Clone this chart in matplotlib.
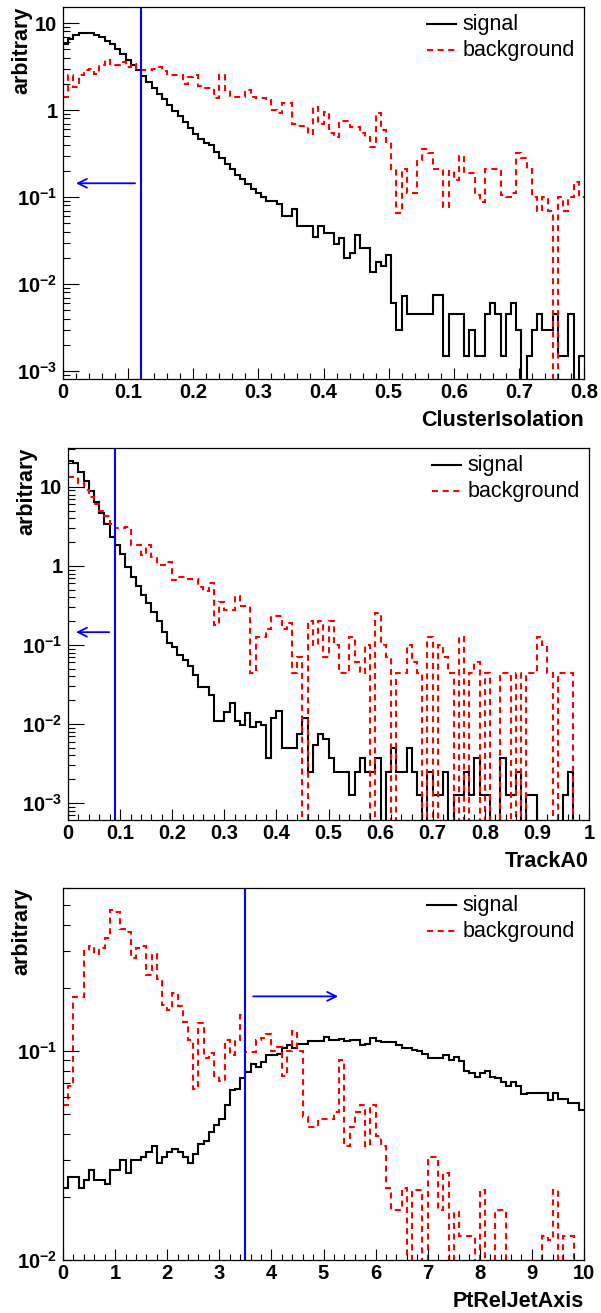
import numpy as np
import matplotlib
matplotlib.use("Agg")
import matplotlib.pyplot as plt
from matplotlib.ticker import LogLocator, MultipleLocator, FuncFormatter, NullFormatter

plt.rcParams["font.family"] = ["Liberation Sans", "DejaVu Sans"]
plt.rcParams["mathtext.fontset"] = "custom"
for key in ("mathtext.rm", "mathtext.it", "mathtext.bf", "mathtext.sf"):
    plt.rcParams[key] = "Liberation Sans:bold"

# --- ClusterIsolation (100 bins, 0..0.8) ---
iso_signal = [
    5.8, 6.5, 7.2, 7.6, 7.7, 7.6, 7.3, 6.9, 6.3, 5.7,
    5.0, 4.4, 3.8, 3.3, 2.9, 2.45, 2.1, 1.8, 1.55, 1.33,
    1.15, 0.98, 0.85, 0.72, 0.62, 0.53, 0.46, 0.42, 0.40, 0.33,
    0.28, 0.24, 0.21, 0.18, 0.16, 0.14, 0.125, 0.11, 0.10, 0.091,
    0.091, 0.084, 0.06, 0.06, 0.073, 0.047, 0.046, 0.046, 0.035, 0.047,
    0.039, 0.039, 0.029, 0.034, 0.02, 0.0226, 0.037, 0.026, 0.026, 0.0139,
    0.018, 0.0163, 0.0216, 0.0061, 0.003, 0.0073, 0.0045, 0.0045, 0.0045, 0.0045,
    0.0045, 0.0075, 0.0075, 0.0015, 0.0045, 0.0045, 0.0045, 0.0015, 0.003, 0.0015,
    0.0015, 0.0045, 0.006, 0.0045, 0.0015, 0.0045, 0.006, 0.003, 0.0, 0.0015,
    0.003, 0.0045, 0.003, 0.003, 0.0045, 0.0015, 0.0015, 0.0045, 0.0, 0.0015,
]
iso_background = [
    1.42, 2.5, 1.82, 2.5, 2.9, 3.0, 2.6, 3.3, 3.75, 3.4,
    3.3, 3.6, 3.15, 3.4, 3.0, 2.9, 2.9, 3.0, 3.15, 2.8,
    2.5, 2.5, 2.5, 2.0, 2.4, 2.5, 1.9, 1.8, 1.8, 1.36,
    2.5, 1.7, 1.4, 1.4, 1.4, 1.7, 1.4, 1.36, 1.36, 1.3,
    1.0, 0.92, 1.19, 1.19, 0.7, 0.66, 0.66, 0.53, 1.09, 0.70,
    0.96, 0.54, 0.49, 0.75, 0.74, 0.64, 0.64, 0.54, 0.49, 0.38,
    0.92, 0.59, 0.43, 0.21, 0.065, 0.21, 0.11, 0.11, 0.27, 0.36,
    0.32, 0.21, 0.21, 0.077, 0.2, 0.157, 0.30, 0.187, 0.187, 0.105,
    0.088, 0.21, 0.21, 0.21, 0.105, 0.1, 0.11, 0.32, 0.28, 0.21,
    0.1, 0.07, 0.1, 0.07, 0.0, 0.1, 0.07, 0.1, 0.15, 0.1,
]

# --- TrackA0 (100 bins, 0..1) ---
a0_signal = [
    21.5, 19.9, 15.6, 11.7, 8.9, 6.5, 4.65, 3.37, 2.31, 1.84,
    1.41, 0.98, 0.73, 0.55, 0.43, 0.34, 0.26, 0.2, 0.147, 0.105,
    0.095, 0.075, 0.065, 0.054, 0.042, 0.029, 0.029, 0.023, 0.011, 0.011,
    0.0142, 0.0185, 0.011, 0.0097, 0.0137, 0.0092, 0.0107, 0.0097, 0.0037, 0.012,
    0.0145, 0.005, 0.005, 0.005, 0.0075, 0.012, 0.0025, 0.0055, 0.0074, 0.0064,
    0.0037, 0.0025, 0.0025, 0.0025, 0.00125, 0.0025, 0.0037, 0.0025, 0.0025, 0.0037,
    0.0, 0.0025, 0.005, 0.0025, 0.0025, 0.005, 0.0025, 0.00125, 0.0, 0.0025,
    0.00125, 0.00125, 0.0025, 0.0, 0.00125, 0.00125, 0.0025, 0.00125, 0.0037, 0.00125,
    0.00125, 0.0, 0.0, 0.0037, 0.00125, 0.00125, 0.0025, 0.0, 0.00125, 0.00125,
    0.0, 0.0, 0.0, 0.0, 0.0, 0.00125, 0.0025, 0.0, 0.0, 0.0,
]
a0_background = [
    13.3, 13.3, 11.1, 9.0, 7.5, 6.1, 5.0, 4.3, 3.4, 3.0,
    3.0, 3.1, 1.84, 1.84, 1.38, 1.84, 1.3, 1.03, 1.03, 1.13,
    0.66, 0.72, 0.72, 0.69, 0.69, 0.54, 0.48, 0.6, 0.18, 0.35,
    0.28, 0.28, 0.41, 0.31, 0.31, 0.044, 0.126, 0.126, 0.16, 0.23,
    0.23, 0.16, 0.19, 0.044, 0.07, 0.0, 0.2, 0.1, 0.2, 0.07,
    0.2, 0.1, 0.044, 0.044, 0.127, 0.06, 0.044, 0.1, 0.0, 0.256,
    0.1, 0.07, 0.0, 0.044, 0.044, 0.1, 0.06, 0.044, 0.0, 0.127,
    0.0, 0.1, 0.07, 0.044, 0.0, 0.127, 0.0, 0.044, 0.06, 0.0,
    0.044, 0.0, 0.0, 0.044, 0.044, 0.0, 0.044, 0.0, 0.044, 0.044,
    0.127, 0.1, 0.044, 0.0, 0.044, 0.044, 0.044, 0.0, 0.0, 0.0,
]

# --- PtRelJetAxis (100 bins, 0..10) ---
ptrel_signal = [
    0.022, 0.025, 0.025, 0.022, 0.024, 0.027, 0.024, 0.024, 0.023, 0.027,
    0.027, 0.030, 0.026, 0.030, 0.030, 0.031, 0.033, 0.035, 0.029, 0.031,
    0.033, 0.034, 0.033, 0.031, 0.029, 0.032, 0.036, 0.037, 0.041, 0.044,
    0.047, 0.055, 0.065, 0.066, 0.074, 0.079, 0.086, 0.084, 0.088, 0.095,
    0.095, 0.097, 0.103, 0.107, 0.103, 0.108, 0.108, 0.111, 0.111, 0.111,
    0.116, 0.112, 0.112, 0.114, 0.111, 0.112, 0.112, 0.106, 0.108, 0.115,
    0.111, 0.110, 0.110, 0.110, 0.106, 0.103, 0.103, 0.101, 0.100, 0.097,
    0.092, 0.092, 0.092, 0.095, 0.090, 0.093, 0.089, 0.080, 0.078, 0.075,
    0.078, 0.080, 0.075, 0.074, 0.071, 0.068, 0.071, 0.068, 0.062, 0.063,
    0.063, 0.063, 0.063, 0.058, 0.063, 0.059, 0.059, 0.056, 0.056, 0.052,
]
ptrel_background = [
    0.055, 0.068, 0.18, 0.18, 0.30, 0.316, 0.29, 0.31, 0.345, 0.47,
    0.46, 0.383, 0.37, 0.277, 0.31, 0.316, 0.23, 0.29, 0.22, 0.165,
    0.157, 0.188, 0.163, 0.138, 0.112, 0.066, 0.136, 0.092, 0.098, 0.076,
    0.072, 0.113, 0.095, 0.113, 0.148, 0.099, 0.099, 0.112, 0.115, 0.12,
    0.10, 0.104, 0.076, 0.1, 0.125, 0.1, 0.048, 0.043, 0.043, 0.047,
    0.047, 0.047, 0.051, 0.09, 0.035, 0.043, 0.051, 0.055, 0.035, 0.055,
    0.039, 0.035, 0.022, 0.0173, 0.0173, 0.022, 0.0, 0.0215, 0.0215, 0.0,
    0.031, 0.031, 0.0173, 0.026, 0.0, 0.017, 0.013, 0.013, 0.013, 0.0,
    0.0215, 0.0, 0.0, 0.0173, 0.0173, 0.0, 0.0, 0.0, 0.0, 0.0,
    0.0, 0.0, 0.013, 0.0125, 0.0215, 0.0, 0.013, 0.013, 0.0, 0.0,
]

FIG_W, FIG_H = 601, 1313
DASHED = (0, (2.9, 2.2))


def log_label(v, pos):
    e = int(round(np.log10(v)))
    if e == 0:
        return "1"
    if e == 1:
        return "10"
    return r"$10^{%d}$" % e


def draw_panel(fig, box, xrange, sig, bkg, ylim, cut, arrow, xlabel,
               major, minor):
    left, top, w, h = box
    ax = fig.add_axes([left / FIG_W, 1 - (top + h) / FIG_H, w / FIG_W, h / FIG_H])
    edges = np.linspace(xrange[0], xrange[1], len(sig) + 1)
    floor = ylim[0] * 1e-3
    sig = np.asarray(sig)
    bkg = np.asarray(bkg)
    # empty bins drop below the axis, as ROOT draws them on a log scale
    ax.stairs(np.where(sig > 0, sig, floor), edges, baseline=None,
              color="black", lw=1.5)
    ax.stairs(np.where(bkg > 0, bkg, floor), edges, baseline=None,
              color="red", lw=1.5, linestyle=DASHED)

    ax.axvline(cut, color="blue", lw=1.5)
    tail, tip, ya = arrow
    ax.annotate("", xy=(tip, ya), xytext=(tail, ya),
                arrowprops=dict(arrowstyle="->", color="blue", lw=1.3,
                                mutation_scale=16, shrinkA=0, shrinkB=0))

    ax.set_yscale("log")
    ax.set_xlim(*xrange)
    ax.set_ylim(*ylim)
    ax.xaxis.set_major_locator(MultipleLocator(major))
    ax.xaxis.set_minor_locator(MultipleLocator(minor))
    ax.xaxis.set_major_formatter(FuncFormatter(lambda v, p: "%g" % round(v, 6)))
    ax.yaxis.set_major_locator(LogLocator(base=10, numticks=20))
    ax.yaxis.set_minor_locator(LogLocator(base=10, subs=np.arange(2, 10), numticks=50))
    ax.yaxis.set_major_formatter(FuncFormatter(log_label))
    ax.yaxis.set_minor_formatter(NullFormatter())

    ax.tick_params(which="both", direction="in", top=False, right=False,
                   width=0.8, labelsize=14.5)
    ax.tick_params(axis="x", which="major", length=7.7, pad=3)
    ax.tick_params(axis="x", which="minor", length=4)
    ax.tick_params(axis="y", which="major", length=11.3, pad=4)
    ax.tick_params(axis="y", which="minor", length=5.3)
    for lab in ax.get_xticklabels() + ax.get_yticklabels():
        lab.set_fontweight("bold")
    for sp in ax.spines.values():
        sp.set_linewidth(0.9)

    ax.set_xlabel(xlabel, fontsize=15.5, fontweight="bold", loc="right")
    ax.xaxis.set_label_coords(1.0, -0.083)
    ax.set_ylabel("arbitrary", fontsize=15.5, fontweight="bold", loc="top")
    ax.yaxis.label.set_va("center")
    ax.yaxis.set_label_coords(-41 / w, 1.0)

    # key in the upper right, as in the ROOT legend
    for yk, name, style, col in ((0.954, "signal", "-", "black"),
                                 (0.884, "background", DASHED, "red")):
        ax.plot([0.698, 0.755], [yk, yk], transform=ax.transAxes,
                color=col, lw=1.5, linestyle=style, clip_on=False)
        ax.text(0.766, yk, name, transform=ax.transAxes, fontsize=15.5,
                ha="left", va="center")
    return ax


fig = plt.figure(figsize=(FIG_W / 100, FIG_H / 100), dpi=100)

draw_panel(fig, (63, 7, 521, 372), (0.0, 0.8), iso_signal, iso_background,
           (8.1e-4, 15.3), 0.12, (0.1106, 0.02, 0.144), "ClusterIsolation",
           0.1, 0.02)
draw_panel(fig, (68, 448, 521, 372), (0.0, 1.0), a0_signal, a0_background,
           (6.1e-4, 31.0), 0.09, (0.079, 0.0154, 0.145), "TrackA0",
           0.1, 0.02)
draw_panel(fig, (63, 888, 521, 372), (0.0, 10.0), ptrel_signal, ptrel_background,
           (0.01, 0.6), 3.5, (3.65, 5.28, 0.182), "PtRelJetAxis",
           1.0, 0.2)

fig.savefig("out.png", dpi=100)
